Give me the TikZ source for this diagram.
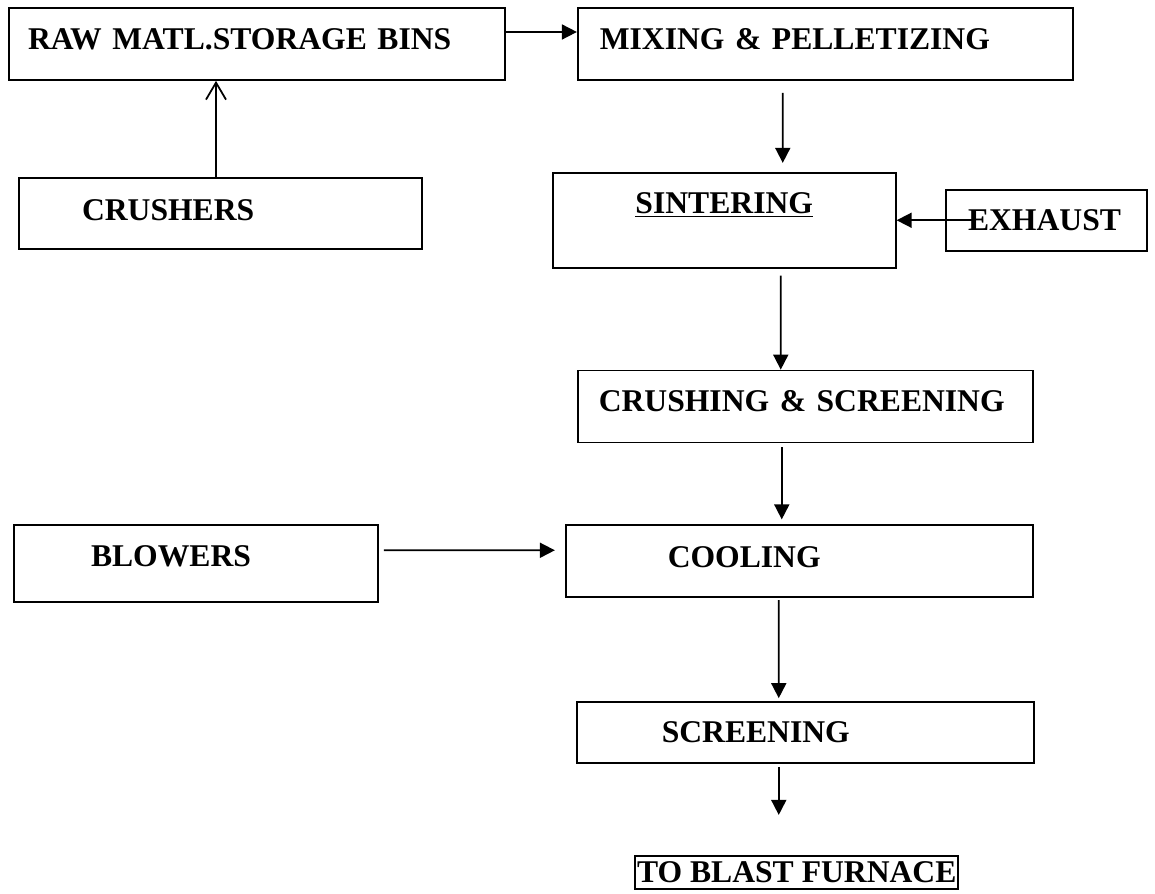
\documentclass[tikz,border=0pt]{standalone}
\usepackage{fontspec}
\setmainfont{Liberation Serif}
\usetikzlibrary{arrows.meta,positioning}

\begin{document}
\begin{tikzpicture}[every node/.style={font=\fontsize{18}{22}\selectfont\bfseries}, line width=1pt, >={Triangle[length=0.3cm,width=0.3cm]}]
  \useasboundingbox (0,0) rectangle (23.1,-17.88);
  \node[draw,align=left,inner ysep=0pt,inner xsep=0.38cm,text width=9.16cm,minimum height=1.44cm,text depth=0.18cm] (raw) at (5.14,-0.88) {RAW MATL.STORAGE BINS};
  \node[draw,align=left,inner ysep=0pt,inner xsep=0.44cm,text width=9.02cm,minimum height=1.44cm,text depth=0.2cm,right=1.42cm of raw] (mix) {MIXING \& PELLETIZING};
  \node[draw,align=left,inner ysep=0pt,inner xsep=1.26cm,text width=5.54cm,minimum height=1.42cm,text depth=0.14cm,below=1.92cm of raw,xshift=-0.73cm] (crush) {CRUSHERS};
  \node[draw,align=center,inner ysep=0pt,inner xsep=0.2cm,text width=6.46cm,minimum height=1.9cm,text depth=0.7cm,below=1.82cm of mix,xshift=-2.02cm] (sint) {\underline{SINTERING}};
  \node[draw,align=left,inner ysep=0pt,inner xsep=0.44cm,text width=3.14cm,minimum height=1.22cm,right=0.97cm of sint] (exh) {EXHAUST};
  \node[draw,align=left,inner ysep=0pt,inner xsep=0.42cm,text width=8.26cm,minimum height=1.44cm,text depth=0.22cm,below=2.02cm of sint,xshift=1.62cm] (crsc) {CRUSHING \& SCREENING};
  \node[draw,align=left,inner ysep=0pt,inner xsep=2.04cm,text width=5.26cm,minimum height=1.44cm,text depth=0.18cm,below=1.62cm of crsc,xshift=-0.12cm] (cool) {COOLING};
  \node[draw,align=left,inner ysep=0pt,inner xsep=1.54cm,text width=4.2cm,minimum height=1.54cm,text depth=0.3cm,left=3.72cm of cool,yshift=-0.05cm] (blow) {BLOWERS};
  \node[draw,align=left,inner ysep=0pt,inner xsep=1.7cm,text width=5.74cm,minimum height=1.22cm,below=2.06cm of cool,xshift=0.12cm] (scr) {SCREENING};
  \node[draw,line width=1.2pt,inner xsep=0.04cm,inner ysep=0.12cm,below=1.82cm of scr,xshift=-0.17cm] (bf) {TO BLAST FURNACE};
  \coordinate (out) at ([xshift=-0.53cm,yshift=-1.02cm]scr.south);

  \draw[->] ([yshift=0.24cm]raw.east) -- ([yshift=0.24cm]mix.west);
  \draw[-{Straight Barb[length=0.34cm,width=0.4cm]}] ([xshift=-0.09cm]crush.north) -- ([xshift=-0.09cm]crush.north |- raw.south);
  \draw[->] ([xshift=-0.85cm,yshift=-0.24cm]mix.south) -- ([xshift=1.17cm,yshift=0.18cm]sint.north);
  \draw[->] ([xshift=0.54cm]exh.west) -- (sint.east);
  \draw[->] ([xshift=1.13cm,yshift=-0.14cm]sint.south) -- ([xshift=-0.49cm]crsc.north);
  \draw[->] ([xshift=-0.47cm,yshift=-0.08cm]crsc.south) -- ([xshift=-0.35cm,yshift=0.1cm]cool.north);
  \draw[->] ([xshift=0.1cm,yshift=0.27cm]blow.east) -- ([xshift=-0.2cm,yshift=0.22cm]cool.west);
  \draw[->] ([xshift=-0.41cm,yshift=-0.04cm]cool.south) -- ([xshift=-0.53cm,yshift=0.06cm]scr.north);
  \draw[->] ([xshift=-0.53cm,yshift=-0.06cm]scr.south) -- (out);
\end{tikzpicture}
\end{document}
